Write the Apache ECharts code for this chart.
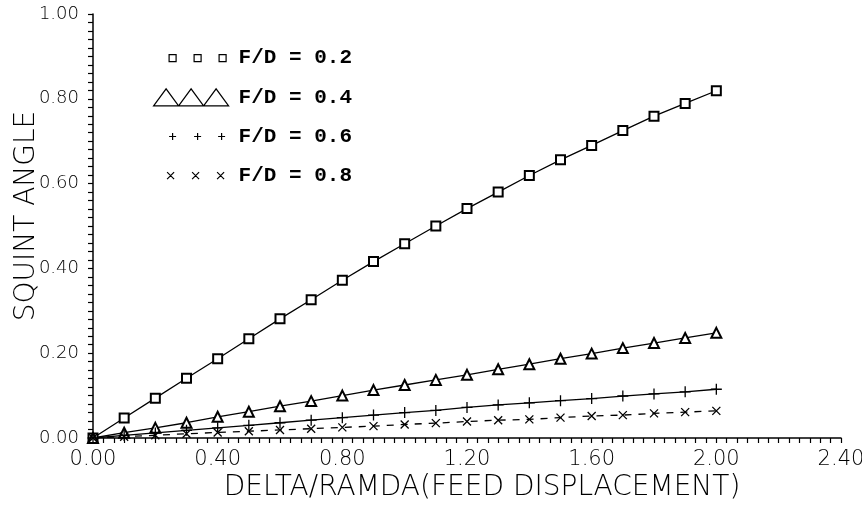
<!DOCTYPE html>
<html>
<head>
<meta charset="UTF-8">
<title>Squint angle</title>
<style>
  html, body { margin: 0; padding: 0; background: #fff; }
  #chart { width: 862px; height: 510px; }
</style>
<script src="https://cdn.jsdelivr.net/npm/echarts@6/dist/echarts.min.js"></script>
</head>
<body>
<div id="chart"></div>
<script>
// feed displacement (delta / lambda)
var xValues = [0.0, 0.1, 0.2, 0.3, 0.4, 0.5, 0.6, 0.7, 0.8, 0.9, 1.0,
               1.1, 1.2, 1.3, 1.4, 1.5, 1.6, 1.7, 1.8, 1.9, 2.0];

// squint angle per F/D
var fd02 = [0, 0.047, 0.094, 0.141, 0.187, 0.234, 0.281, 0.326, 0.372, 0.416, 0.458,
            0.500, 0.541, 0.580, 0.619, 0.656, 0.690, 0.725, 0.759, 0.789, 0.819];
var fd04 = [0, 0.0125, 0.024, 0.036, 0.050, 0.062, 0.075, 0.087, 0.100, 0.113, 0.125,
            0.137, 0.149, 0.162, 0.174, 0.187, 0.199, 0.212, 0.224, 0.236, 0.248];
var fd06 = [0, 0.006, 0.012, 0.018, 0.024, 0.030, 0.036, 0.042, 0.048, 0.054, 0.060,
            0.065, 0.072, 0.078, 0.083, 0.088, 0.093, 0.099, 0.104, 0.109, 0.115];
var fd08 = [0, 0.003, 0.0065, 0.010, 0.013, 0.016, 0.019, 0.022, 0.025, 0.028, 0.032,
            0.035, 0.039, 0.042, 0.044, 0.048, 0.052, 0.054, 0.058, 0.061, 0.064];

var seriesNames = ['F/D = 0.2', 'F/D = 0.4', 'F/D = 0.6', 'F/D = 0.8'];

function pairs(ys) {
  return xValues.map(function (x, i) { return [x, ys[i]]; });
}

// legend icons: three markers in a 80x25 box (first two moves pin the box)
var box = 'M0,0 M80,25 ';
var legendIcons = [
  'path://' + box + 'M15.5,9h7v7h-7Z M40.5,9h7v7h-7Z M65.5,9h7v7h-7Z',
  'path://' + box + 'M0,21L12.5,4L25,21Z M25,21L37.5,4L50,21Z M50,21L62.5,4L75,21Z',
  'path://' + box + 'M15.5,12.5h7M19,9v7 M40.5,12.5h7M44,9v7 M64.5,12.5h7M68,9v7',
  'path://' + box + 'M13.5,9l7,7M20.5,9l-7,7 M38.5,9l7,7M45.5,9l-7,7 M63.5,9l7,7M70.5,9l-7,7'
];

var plusSymbol = 'path://M5,0V10M0,5H10';
var crossSymbol = 'path://M0,0L10,10M10,0L0,10';

var axisFont = 'DejaVu Sans';
var chart = echarts.init(document.getElementById('chart'));

var option = {
  animation: false,
  backgroundColor: '#fff',
  grid: { left: 93, right: 21, top: 14, bottom: 72, containLabel: false, outerBoundsMode: 'none' },
  legend: {
    orient: 'vertical',
    left: 153,
    top: 45,
    padding: 0,
    itemWidth: 80,
    itemHeight: 25,
    itemGap: 13,
    selectedMode: false,
    data: seriesNames.map(function (n, i) { return { name: n, icon: legendIcons[i] }; }),
    itemStyle: { color: 'rgba(0,0,0,0)', borderColor: '#000', borderWidth: 1.2 },
    textStyle: { fontFamily: 'Liberation Mono', fontWeight: 'bold', fontSize: 21, color: '#000' }
  },
  xAxis: {
    type: 'value',
    min: 0,
    max: 2.4,
    interval: 0.4,
    name: 'DELTA/RAMDA(FEED DISPLACEMENT)',
    nameLocation: 'middle',
    nameGap: 36,
    nameMoveOverlap: false,
    nameTextStyle: { fontFamily: axisFont, fontWeight: 200, fontSize: 28, color: '#000', padding: [0, 0, 0, 30] },
    axisLine: { show: true, onZero: false, lineStyle: { color: '#000', width: 1.5 } },
    axisTick: { show: true, inside: false, length: 5, lineStyle: { color: '#000', width: 1.2 } },
    minorTick: { show: true, splitNumber: 12, length: 5, lineStyle: { color: '#000', width: 1.2 } },
    splitLine: { show: false },
    axisLabel: {
      margin: 11,
      fontFamily: axisFont, fontWeight: 200, fontSize: 21, color: '#000',
      formatter: function (v) { return v.toFixed(2); }
    }
  },
  yAxis: {
    type: 'value',
    min: 0,
    max: 1,
    interval: 0.2,
    name: 'SQUINT ANGLE',
    nameLocation: 'middle',
    nameGap: 52,
    nameMoveOverlap: false,
    nameTextStyle: { fontFamily: axisFont, fontWeight: 200, fontSize: 28, color: '#000', padding: [0, 0, 0, 20] },
    axisLine: { show: true, onZero: false, lineStyle: { color: '#000', width: 1.5 } },
    axisTick: { show: true, inside: false, length: 5, lineStyle: { color: '#000', width: 1.2 } },
    minorTick: { show: true, splitNumber: 10, length: 5, lineStyle: { color: '#000', width: 1.2 } },
    splitLine: { show: false },
    axisLabel: {
      margin: 14,
      fontFamily: axisFont, fontWeight: 200, fontSize: 18, color: '#000',
      formatter: function (v) { return v.toFixed(2); }
    }
  },
  series: [
    {
      name: seriesNames[0], type: 'line', data: pairs(fd02),
      symbol: 'emptyRect', symbolSize: 9, color: '#000',
      itemStyle: { color: '#000', borderColor: '#000', borderWidth: 1.3 },
      lineStyle: { color: '#000', width: 1.3 }
    },
    {
      name: seriesNames[1], type: 'line', data: pairs(fd04),
      symbol: 'emptyTriangle', symbolSize: 10, color: '#000',
      itemStyle: { color: '#000', borderColor: '#000', borderWidth: 1.3 },
      lineStyle: { color: '#000', width: 1.3 }
    },
    {
      name: seriesNames[2], type: 'line', data: pairs(fd06),
      symbol: plusSymbol, symbolSize: 11, color: '#000',
      itemStyle: { color: '#000', borderColor: '#000', borderWidth: 1.3 },
      lineStyle: { color: '#000', width: 1.3 }
    },
    {
      name: seriesNames[3], type: 'line', data: pairs(fd08),
      symbol: crossSymbol, symbolSize: 8, color: '#000',
      itemStyle: { color: '#000', borderColor: '#000', borderWidth: 1.3 },
      lineStyle: { color: '#000', width: 1.3, type: [7, 7] }
    }
  ]
};

chart.setOption(option);
</script>
</body>
</html>
